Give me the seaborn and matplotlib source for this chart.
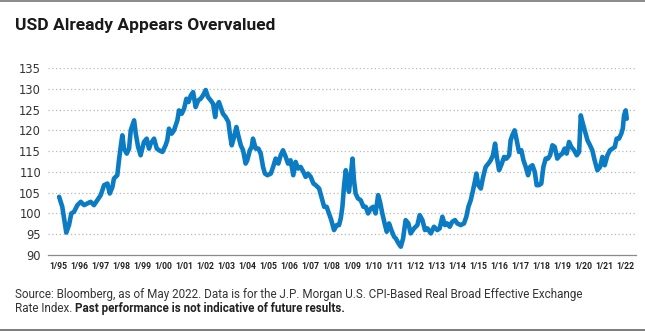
import matplotlib
matplotlib.use("Agg")
import matplotlib.pyplot as plt
import seaborn as sns
import pandas as pd
from matplotlib.ticker import FixedLocator, NullFormatter, FixedFormatter
from matplotlib.lines import Line2D

# J.P. Morgan U.S. CPI-based real broad effective exchange rate index
years = [
    1995.03, 1995.18, 1995.34, 1995.37, 1995.50, 1995.61, 1995.74, 1995.90,
    1996.06, 1996.22, 1996.37, 1996.53, 1996.69, 1996.85, 1997.01, 1997.17,
    1997.33, 1997.44, 1997.57, 1997.64, 1997.80, 1997.88, 1997.96, 1998.04,
    1998.12, 1998.25, 1998.36, 1998.44, 1998.60, 1998.68, 1998.79, 1998.91,
    1999.07, 1999.20, 1999.31, 1999.39, 1999.55, 1999.68, 1999.79, 1999.95,
    2000.10, 2000.18, 2000.26, 2000.39, 2000.50, 2000.66, 2000.74, 2000.87,
    2000.98, 2001.09, 2001.19, 2001.30, 2001.41, 2001.53, 2001.65, 2001.77,
    2001.88, 2002.01, 2002.12, 2002.25, 2002.36, 2002.46, 2002.52, 2002.64,
    2002.72, 2002.83, 2002.96, 2003.09, 2003.17, 2003.25, 2003.36, 2003.47,
    2003.56, 2003.68, 2003.79, 2003.91, 2003.99, 2004.11, 2004.20, 2004.26,
    2004.39, 2004.52, 2004.63, 2004.74, 2004.83, 2004.95, 2005.11, 2005.22,
    2005.34, 2005.47, 2005.58, 2005.69, 2005.82, 2005.93, 2006.05, 2006.18,
    2006.29, 2006.41, 2006.53, 2006.66, 2006.77, 2006.88, 2007.01, 2007.14,
    2007.25, 2007.41, 2007.52, 2007.65, 2007.77, 2007.88, 2007.99, 2008.12,
    2008.25, 2008.36, 2008.44, 2008.52, 2008.60, 2008.68, 2008.76, 2008.83,
    2008.92, 2009.00, 2009.07, 2009.15, 2009.26, 2009.39, 2009.52, 2009.63,
    2009.74, 2009.87, 2009.99, 2010.10, 2010.22, 2010.31, 2010.42, 2010.53,
    2010.63, 2010.74, 2010.85, 2010.98, 2011.06, 2011.19, 2011.30, 2011.41,
    2011.53, 2011.66, 2011.77, 2011.93, 2012.09, 2012.20, 2012.33, 2012.45,
    2012.57, 2012.73, 2012.88, 2013.04, 2013.15, 2013.28, 2013.40, 2013.51,
    2013.63, 2013.75, 2013.88, 2013.99, 2014.15, 2014.31, 2014.42, 2014.52,
    2014.63, 2014.74, 2014.84, 2014.90, 2014.99, 2015.11, 2015.22, 2015.34,
    2015.47, 2015.58, 2015.69, 2015.79, 2015.87, 2015.98, 2016.11, 2016.22,
    2016.33, 2016.46, 2016.53, 2016.61, 2016.72, 2016.82, 2016.93, 2017.04,
    2017.14, 2017.25, 2017.36, 2017.46, 2017.57, 2017.68, 2017.77, 2017.88,
    2017.99, 2018.09, 2018.20, 2018.31, 2018.41, 2018.52, 2018.63, 2018.75,
    2018.88, 2018.99, 2019.10, 2019.20, 2019.31, 2019.42, 2019.55, 2019.68,
    2019.79, 2019.87, 2019.95, 2020.06, 2020.19, 2020.31, 2020.42, 2020.53,
    2020.66, 2020.79, 2020.90, 2021.01, 2021.14, 2021.26, 2021.38, 2021.49,
    2021.58, 2021.69, 2021.80, 2021.87, 2021.93, 2022.01, 2022.06,
]
index_values = [
    104.0, 101.6, 96.4, 95.4, 97.2, 100.0, 100.4, 102.0,
    102.8, 102.0, 102.4, 102.8, 102.0, 103.2, 104.4, 106.8,
    107.2, 104.8, 106.4, 108.4, 109.2, 112.8, 116.0, 118.8,
    115.6, 114.4, 115.6, 120.0, 122.4, 119.2, 116.0, 114.0,
    117.2, 118.0, 115.6, 116.8, 118.0, 115.6, 115.2, 114.8,
    116.4, 117.6, 120.4, 119.2, 120.0, 122.4, 124.8, 124.0,
    125.2, 127.6, 126.8, 128.4, 129.2, 125.6, 127.2, 127.6,
    128.4, 129.7, 128.0, 127.2, 126.4, 123.2, 125.6, 126.8,
    125.6, 124.0, 123.2, 122.0, 118.8, 116.4, 118.4, 120.8,
    118.8, 116.4, 115.2, 112.0, 112.8, 115.2, 116.0, 118.0,
    115.6, 115.6, 114.4, 111.2, 109.6, 109.2, 109.6, 111.2,
    113.2, 112.0, 114.0, 115.2, 113.6, 112.0, 112.8, 109.2,
    112.4, 110.8, 111.2, 110.0, 108.8, 109.6, 108.8, 107.2,
    106.8, 106.0, 104.0, 101.6, 101.6, 100.0, 98.4, 96.0,
    97.2, 97.2, 98.8, 101.6, 106.8, 110.4, 108.0, 105.2,
    109.2, 113.2, 108.0, 104.8, 103.6, 103.2, 101.6, 101.6,
    100.0, 101.2, 101.6, 100.0, 104.4, 102.8, 100.0, 97.6,
    95.6, 97.6, 96.0, 94.4, 94.0, 92.8, 92.0, 94.0,
    98.4, 97.6, 95.2, 96.4, 97.2, 99.6, 98.4, 96.0,
    96.4, 95.2, 96.8, 96.0, 96.4, 99.2, 97.2, 97.6,
    96.8, 98.0, 98.4, 97.6, 97.2, 97.6, 99.2, 101.6,
    103.2, 105.6, 108.0, 109.6, 106.8, 106.0, 108.8, 111.2,
    112.0, 112.8, 114.0, 116.8, 113.6, 110.4, 112.0, 113.6,
    113.2, 114.0, 117.6, 118.8, 120.0, 117.6, 114.8, 115.2,
    112.8, 111.2, 109.2, 111.2, 111.6, 110.0, 106.8, 106.8,
    107.2, 111.2, 113.2, 113.2, 114.0, 116.4, 116.0, 113.2,
    114.0, 114.4, 115.6, 114.4, 117.2, 116.0, 115.2, 114.0,
    114.8, 123.6, 122.0, 120.0, 117.6, 116.4, 115.2, 112.8,
    110.4, 111.2, 113.6, 111.6, 114.0, 115.2, 115.6, 116.0,
    118.0, 118.0, 119.2, 120.4, 123.6, 124.8, 122.8,
]
tick_years = list(range(1995, 2023))
tick_labels = [f"1/{y % 100:02d}" for y in tick_years]
y_ticks = [90, 95, 100, 105, 110, 115, 120, 125, 130, 135]

title = "USD Already Appears Overvalued"
source_line1 = ("Source: Bloomberg, as of May 2022. Data is for the J.P. Morgan U.S. "
                "CPI-Based Real Broad Effective Exchange")
source_line2 = "Rate Index. "
source_bold = "Past performance is not indicative of future results."

df = pd.DataFrame({"year": years, "index": index_values})

sns.set_theme(style="white")
plt.rcParams["font.family"] = ["Roboto", "DejaVu Sans"]

W, H = 645, 331
fig = plt.figure(figsize=(W / 100, H / 100), dpi=100)
fig.patch.set_facecolor("white")

ax = fig.add_axes([48 / W, (H - 255) / H, 588 / W, 187 / H])
sns.lineplot(data=df, x="year", y="index", ax=ax, color="#0b7cc3",
             linewidth=3.3, solid_joinstyle="round", solid_capstyle="round")

ax.set_xlim(1994.5, 2022.5)
ax.set_ylim(90, 135)
ax.set_xlabel("")
ax.set_ylabel("")

# labels sit under each January, tick marks fall between them
ax.xaxis.set_major_locator(FixedLocator(tick_years))
ax.xaxis.set_major_formatter(FixedFormatter(tick_labels))
ax.xaxis.set_minor_locator(FixedLocator([y + 0.5 for y in tick_years[:-1]]))
ax.xaxis.set_minor_formatter(NullFormatter())
ax.tick_params(axis="x", which="major", length=0, pad=5, labelsize=6.2,
               labelcolor="#222222")
ax.tick_params(axis="x", which="minor", length=4, width=0.8, direction="in",
               color="#aaaaaa")
for lab in ax.get_xticklabels():
    lab.set_fontweight("bold")

ax.set_yticks(y_ticks)
ax.tick_params(axis="y", length=0, pad=5, labelsize=8.3, labelcolor="#333333")
for lab in ax.get_yticklabels():
    lab.set_fontfamily("DejaVu Sans")

for v in y_ticks[1:]:
    ax.axhline(v, color="#b8b8b8", linewidth=0.9, linestyle=(0, (1, 2)),
               zorder=0)
ax.grid(False)

for side in ("left", "right", "top"):
    ax.spines[side].set_visible(False)
ax.spines["bottom"].set_color("#8a8a8a")
ax.spines["bottom"].set_linewidth(0.9)

fig.text(15 / W, 1 - 30 / H, title, fontsize=12.5, fontweight="bold",
         color="#1a1a1a", ha="left", va="baseline")

t1 = fig.text(15 / W, 1 - 298 / H, source_line1, fontsize=8.4,
              color="#333333", ha="left", va="baseline")
t2 = fig.text(15 / W, 1 - 312 / H, source_line2, fontsize=8.4,
              color="#333333", ha="left", va="baseline")
ax.annotate(source_bold, xy=(1, 0), xycoords=t2, ha="left", va="bottom",
            fontsize=8.4, fontweight="bold", color="#222222",
            annotation_clip=False)

# thin rules framing the panel
fig.add_artist(Line2D([0, 1], [1 - 1 / H, 1 - 1 / H], transform=fig.transFigure,
                      color="#777777", linewidth=1.2))
fig.add_artist(Line2D([0, 1], [1 / H, 1 / H], transform=fig.transFigure,
                      color="#666666", linewidth=1.2))

fig.savefig("out.png", dpi=100)
